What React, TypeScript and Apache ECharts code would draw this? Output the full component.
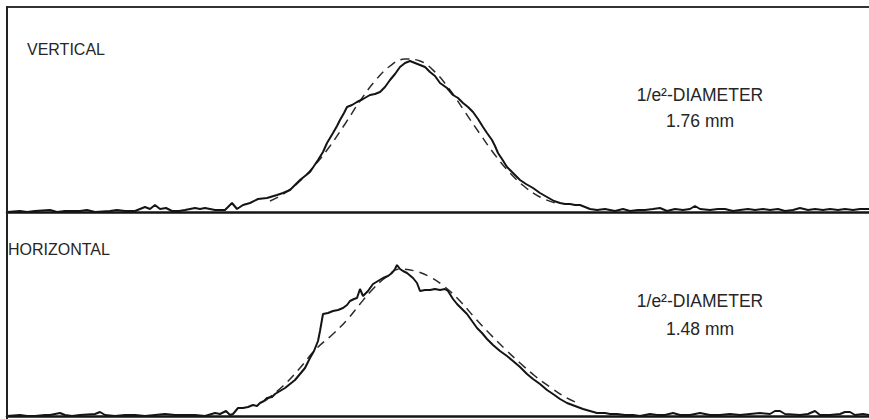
import React, { useEffect, useRef } from "react";
import * as echarts from "echarts";

// Beam profile scans: [position (arb.), signal (arb.)]
const verticalMeasured: [number, number][] = [
  [0, 0], [13, 1], [20, 0], [28, 1], [43, 2], [50, 0], [58, 1], [73, 1], [80, 2], [88, 0], [103, 1], [110, 2], [118, 1],
  [128, 1], [138, 5], [143, 3], [148, 7], [153, 3], [159, 4], [165, 1], [172, 1], [178, 2], [188, 4], [193, 3], [198, 4],
  [208, 2], [218, 2], [225, 9], [230, 3], [236, 7], [243, 9], [251, 13], [260, 14], [270, 17], [276, 19], [283, 22],
  [288, 27], [293, 32], [298, 36], [303, 40], [307, 46], [311, 52], [316, 60], [320, 69], [326, 79], [330, 86],
  [333, 92], [337, 99], [340, 105], [345, 107], [350, 110], [356, 113], [363, 117], [368, 118], [373, 120],
  [378, 125], [383, 132], [388, 138], [393, 145], [398, 149], [403, 151], [408, 149], [413, 147], [418, 145],
  [423, 140], [428, 136], [433, 129], [440, 124], [446, 117], [451, 114], [456, 109], [461, 105], [466, 100],
  [471, 93], [476, 85], [480, 79], [485, 72], [488, 66], [491, 59], [495, 53], [500, 45], [506, 39], [513, 32],
  [519, 28], [526, 24], [533, 19], [540, 15], [547, 11], [553, 9], [558, 8], [563, 8], [568, 7], [573, 7],
  [578, 5], [583, 3], [590, 2], [598, 3], [608, 1], [616, 3], [623, 1], [631, 2], [638, 2], [646, 3], [653, 4],
  [660, 1], [668, 3], [676, 2], [683, 3], [688, 6], [693, 3], [703, 2], [711, 3], [718, 3], [726, 1], [733, 2],
  [741, 3], [748, 2], [756, 3], [763, 2], [771, 3], [778, 1], [786, 2], [793, 4], [801, 2], [808, 3], [816, 2],
  [823, 3], [831, 2], [838, 3], [846, 2], [853, 3], [862, 3],
];

const verticalFit: [number, number][] = [
  [263, 11], [278, 19], [293, 31], [308, 47], [323, 66], [338, 88], [353, 111], [368, 131], [383, 146],
  [398, 153], [413, 151], [428, 140], [443, 122], [458, 100], [473, 78], [488, 57], [503, 39], [518, 25],
  [533, 15], [548, 9],
];

const horizontalMeasured: [number, number][] = [
  [0, 0], [13, 1], [20, 0], [28, 0], [38, 1], [43, 1], [53, 3], [58, 1], [65, 0], [73, 1], [88, 2], [93, 4],
  [98, 1], [108, 0], [118, 1], [128, 1], [138, 0], [148, 1], [158, 2], [168, 1], [178, 1], [188, 1], [198, 0],
  [208, 3], [213, 2], [219, 5], [223, 1], [226, 2], [231, 8], [236, 8], [241, 9], [246, 11], [250, 10],
  [253, 13], [257, 15], [260, 18], [265, 19], [268, 22], [273, 25], [278, 28], [283, 32], [288, 36], [293, 42],
  [298, 48], [303, 58], [307, 65], [311, 75], [313, 85], [316, 102], [321, 103], [326, 105], [331, 106],
  [336, 108], [340, 111], [343, 115], [347, 117], [350, 118], [353, 127], [356, 120], [361, 125], [366, 132],
  [371, 135], [376, 138], [381, 140], [385, 143], [388, 147], [390, 151], [393, 147], [396, 145], [400, 143],
  [406, 138], [410, 133], [413, 125], [418, 126], [423, 126], [428, 127], [433, 126], [438, 127], [441, 125],
  [446, 117], [450, 112], [455, 107], [460, 102], [465, 95], [470, 88], [475, 83], [480, 77], [486, 71],
  [493, 65], [500, 60], [506, 55], [513, 49], [520, 42], [526, 37], [533, 32], [540, 26], [546, 22], [553, 17],
  [560, 13], [568, 10], [576, 7], [583, 5], [590, 3], [598, 3], [603, 2], [610, 2], [618, 1], [626, 1],
  [633, 0], [643, 2], [650, 1], [658, 1], [666, 3], [673, 1], [683, 1], [693, 3], [703, 1], [713, 1],
  [723, 2], [733, 1], [743, 2], [753, 3], [763, 2], [768, 5], [773, 5], [778, 2], [793, 1], [801, 2],
  [808, 5], [813, 1], [823, 1], [833, 2], [838, 4], [843, 4], [848, 1], [856, 2], [862, 1],
];

const horizontalFit: [number, number][] = [
  [258, 15], [276, 30], [293, 48], [308, 66], [326, 82], [340, 96], [353, 112], [365, 126], [378, 138],
  [393, 147], [408, 145], [423, 139], [438, 129], [453, 115], [468, 98], [483, 82], [498, 67], [513, 53],
  [528, 40], [543, 29], [558, 19], [573, 12],
];

const panelLabels = ["VERTICAL", "HORIZONTAL"];
const diameterLabel = "1/e²-DIAMETER";
const diameters = ["1.76 mm", "1.48 mm"];

export default function App() {
  const ref = useRef<HTMLDivElement>(null);

  useEffect(() => {
    if (!ref.current) return;
    const chart = echarts.init(ref.current, null, { renderer: "svg" });
    const font = "'Liberation Sans', Arial, Helvetica, sans-serif";
    const textColor = "#262626";

    const xAxisBase = {
      type: "value" as const,
      min: 0,
      max: 862,
      axisLine: { show: true, onZero: false, lineStyle: { color: "#151515", width: 2.5 } },
      axisTick: { show: false },
      axisLabel: { show: false },
      splitLine: { show: false },
    };
    const yAxisBase = {
      type: "value" as const,
      min: 0,
      axisLine: { show: false },
      axisTick: { show: false },
      axisLabel: { show: false },
      splitLine: { show: false },
    };

    const measuredStyle = { color: "#141414", width: 2, type: "solid" as const };
    const fitStyle = { color: "#2b2b2b", width: 1.5, type: [9, 6] as any };

    chart.setOption({
      animation: false,
      backgroundColor: "#ffffff",
      grid: [
        { left: 7, right: 0, top: 7, bottom: 207 },
        { left: 7, right: 0, top: 212, bottom: 3 },
      ],
      xAxis: [
        { ...xAxisBase, gridIndex: 0 },
        { ...xAxisBase, gridIndex: 1 },
      ],
      yAxis: [
        { ...yAxisBase, gridIndex: 0, max: 205 },
        { ...yAxisBase, gridIndex: 1, max: 204 },
      ],
      series: [
        {
          type: "line", xAxisIndex: 0, yAxisIndex: 0, data: verticalFit, showSymbol: false,
          smooth: 0.4, lineStyle: fitStyle, z: 2,
        },
        {
          type: "line", xAxisIndex: 0, yAxisIndex: 0, data: verticalMeasured, showSymbol: false,
          lineStyle: measuredStyle, z: 3,
        },
        {
          type: "line", xAxisIndex: 1, yAxisIndex: 1, data: horizontalFit, showSymbol: false,
          smooth: 0.4, lineStyle: fitStyle, z: 2,
        },
        {
          type: "line", xAxisIndex: 1, yAxisIndex: 1, data: horizontalMeasured, showSymbol: false,
          lineStyle: measuredStyle, z: 3,
        },
      ],
      graphic: [
        { type: "line", shape: { x1: 7, y1: 7, x2: 869, y2: 7 }, style: { stroke: "#333", lineWidth: 2 }, z: 10 },
        { type: "line", shape: { x1: 7, y1: 6, x2: 7, y2: 419 }, style: { stroke: "#222", lineWidth: 2 }, z: 10 },
        {
          type: "text", left: 27, top: 41,
          style: { text: panelLabels[0], font: `16px ${font}`, fill: textColor },
        },
        {
          type: "text", left: 8, top: 241,
          style: { text: panelLabels[1], font: `16px ${font}`, fill: textColor },
        },
        {
          type: "text", x: 700, y: 95,
          style: { text: diameterLabel, font: `17.5px ${font}`, fill: textColor, align: "center", verticalAlign: "middle" },
        },
        {
          type: "text", x: 700, y: 121,
          style: { text: diameters[0], font: `17.5px ${font}`, fill: textColor, align: "center", verticalAlign: "middle" },
        },
        {
          type: "text", x: 700, y: 301,
          style: { text: diameterLabel, font: `17.5px ${font}`, fill: textColor, align: "center", verticalAlign: "middle" },
        },
        {
          type: "text", x: 700, y: 329,
          style: { text: diameters[1], font: `17.5px ${font}`, fill: textColor, align: "center", verticalAlign: "middle" },
        },
      ],
    });

    return () => chart.dispose();
  }, []);

  return <div ref={ref} style={{ width: 869, height: 419, position: "absolute", left: 0, top: 0 }} />;
}
